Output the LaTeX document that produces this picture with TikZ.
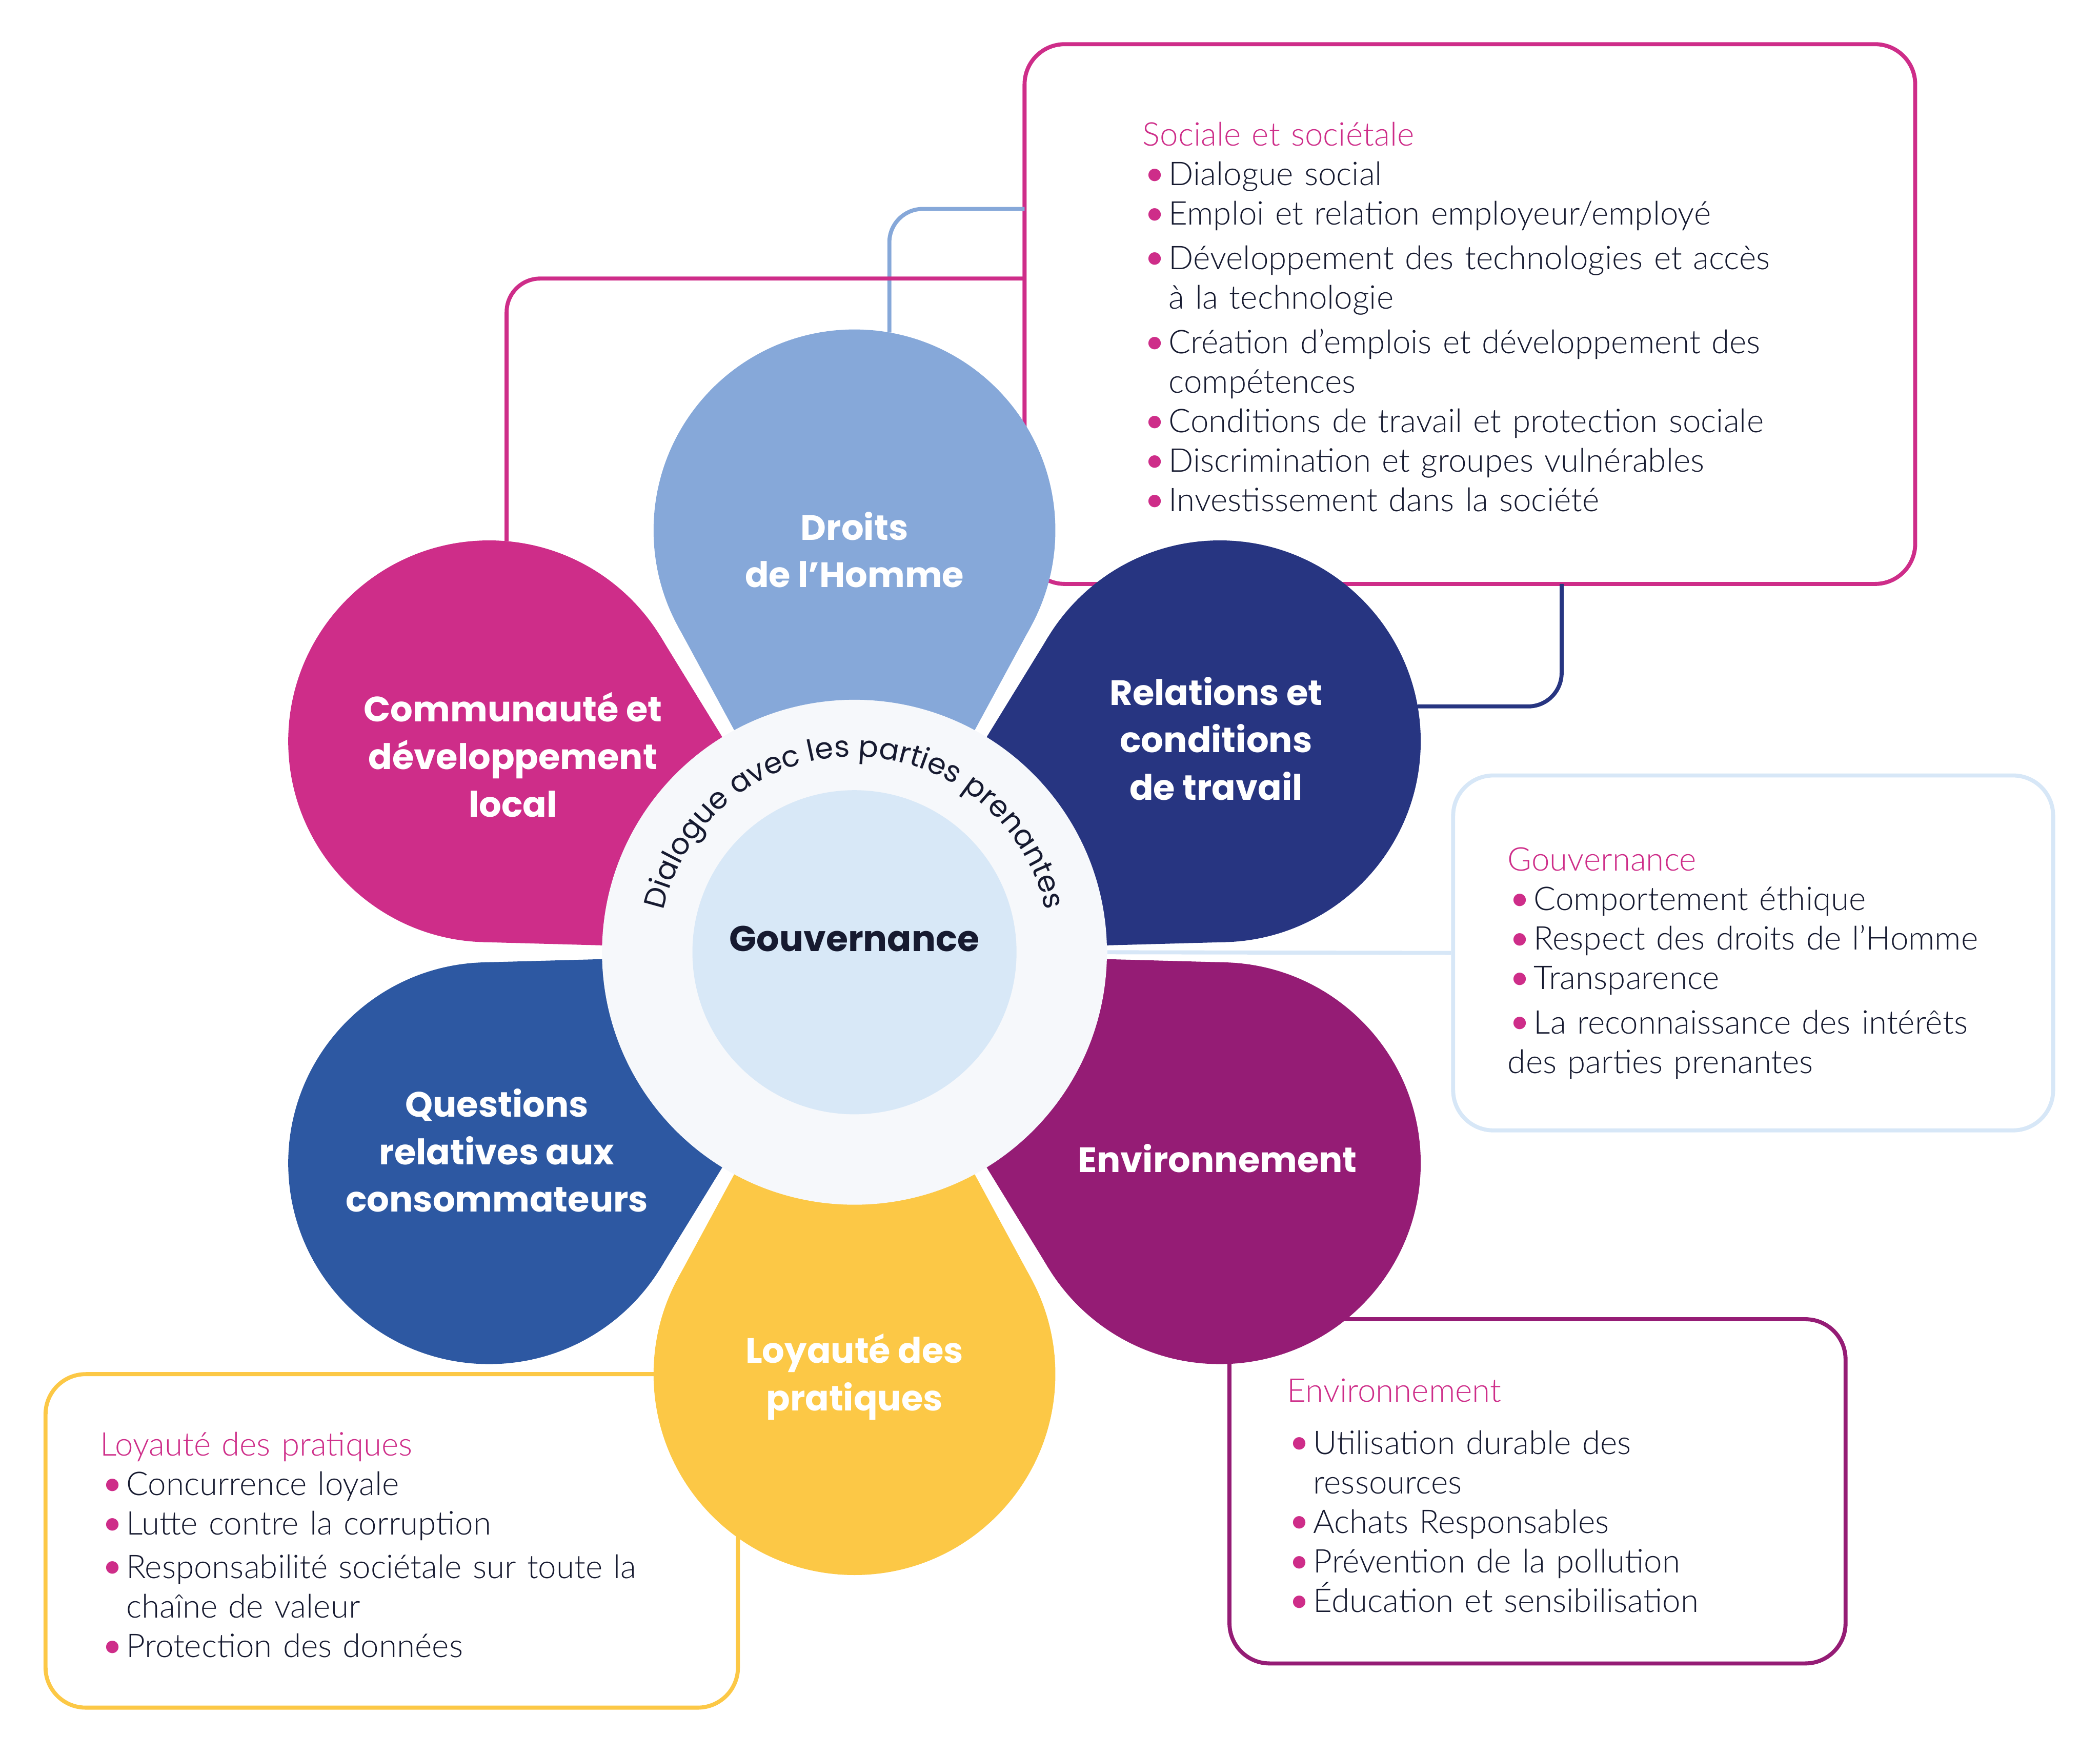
\documentclass[tikz,border=0pt]{standalone}
\usepackage{fontspec}
\setmainfont{Lato}
\newfontfamily\bodyfont{Lato Light}
\newfontfamily\petalfont{Poppins}
\usepackage{xcolor}
\usepackage{graphicx}
\usetikzlibrary{calc,backgrounds,decorations.text}
\definecolor{droitsblue}{HTML}{86A8D9}
\definecolor{relnavy}{HTML}{273581}
\definecolor{envpurple}{HTML}{951C75}
\definecolor{loyalyellow}{HTML}{FCC846}
\definecolor{consoblue}{HTML}{2D58A2}
\definecolor{commpink}{HTML}{CE2D89}
\definecolor{ringgrey}{HTML}{F6F8FB}
\definecolor{corelight}{HTML}{D8E8F7}
\definecolor{gouvline}{HTML}{D7E7F7}
\definecolor{inkdark}{HTML}{161A30}
\newcommand{\itm}{\makebox[19.5pt][l]{\textcolor{commpink}{\raisebox{-0.07em}{\scalebox{1.3}{\textbullet}}}}}
\newcommand{\hng}{\hspace*{19.5pt}}

\begin{document}
\begin{tikzpicture}[
    x=1pt, y=1pt,
    petal/.style={circle, minimum size=300pt, inner sep=0pt, outer sep=0pt},
    petallabel/.style={text=white, align=center, font=\petalfont\bfseries\fontsize{26.3}{35.5}\selectfont},
    panel/.style={rounded corners=30pt, line width=3pt, fill=white},
    panelbody/.style={anchor=base west, inner sep=0pt, text width=560pt, align=left, text=inkdark, font=\bodyfont\fontsize{24.4}{29.5}\selectfont},
    link/.style={line width=3pt, rounded corners=25pt}
]
\useasboundingbox (0,0) rectangle (1568,1310);
\coordinate (ctr) at (638,599);

% the six petals
\foreach \ang/\col/\nm in {90/droitsblue/droits, 30/relnavy/relations, -30/envpurple/environnement,
    -90/loyalyellow/loyaute, -150/consoblue/consommateurs, 150/commpink/communaute} {
  \node[petal, fill=\col] (\nm) at ($(ctr)+(\ang:315)$) {};
  \fill[\col] (ctr) -- ($(\nm)+(\ang+180-61.57:150)$) -- ($(\nm)+(\ang+180+61.57:150)$) -- cycle;
}

% centre
\node[circle, fill=ringgrey, minimum size=377pt, inner sep=0pt] (ring) at (ctr) {};
\node[circle, fill=corelight, minimum size=242pt, inner sep=0pt] (core) at (ctr) {};
\node[text=inkdark, font=\petalfont\bfseries\fontsize{26.7}{32}\selectfont] (gouvlbl) at (638,609) {Gouvernance};
\path[decorate, decoration={text along path, text align=center, text color=inkdark,
    text={|\petalfont\fontsize{22}{26}\selectfont|Dialogue avec les parties prenantes}}]
  ($(ctr)+(174:146)$) arc[start angle=174, end angle=6, radius=146];

\node[petallabel] (droitslbl) at (638,899.5) {Droits\\de l’Homme};
\node[petallabel] (relationslbl) at (908,758.5) {Relations et\\conditions\\de travail};
\node[petallabel] (environnementlbl) at (909,445) {Environnement};
\node[petallabel] (loyautelbl) at (638,282) {Loyauté des\\pratiques};
\node[petallabel] (consommateurslbl) at (371,451) {Questions\\relatives aux\\consommateurs};
\node[petallabel] (communautelbl) at (383,746.5) {Communauté et\\développement\\local};

\begin{scope}[on background layer]
% panels
\node[panel, draw=commpink, minimum width=665pt, minimum height=403pt] (sociale) at (1097.5,1075.5) {};
\node[panel, draw=gouvline, minimum width=448pt, minimum height=265pt] (gouvbox) at (1309,598.5) {};
\node[panel, draw=envpurple, minimum width=460pt, minimum height=257pt] (envbox) at (1148,196.5) {};
\node[panel, draw=loyalyellow, minimum width=517pt, minimum height=249pt] (loyalbox) at (292.5,159.5) {};

\node[panelbody] (socialetxt) at (853,1201) {\textcolor{commpink}{Sociale et sociétale}\\
  \itm Dialogue social\\
  \itm Emploi et relation employeur/employé\\[3.5pt]
  \itm Développement des technologies et accès\\
  \hng à la technologie\\[4pt]
  \itm Création d’emplois et développement des\\
  \hng compétences\\
  \itm Conditions de travail et protection sociale\\
  \itm Discrimination et groupes vulnérables\\
  \itm Investissement dans la société};
\node[panelbody] (gouvtxt) at (1125.6,659.7) {\textcolor{commpink}{Gouvernance}\\
  \itm Comportement éthique\\
  \itm Respect des droits de l’Homme\\
  \itm Transparence\\[3.5pt]
  \itm La reconnaissance des intérêts\\
  des parties prenantes};
\node[panelbody] (envtxt) at (961,263.2) {\textcolor{commpink}{Environnement}\\[9.5pt]
  \itm Utilisation durable des\\
  \hng ressources\\
  \itm Achats Responsables\\
  \itm Prévention de la pollution\\
  \itm Éducation et sensibilisation};
\node[panelbody] (loyaltxt) at (74.5,223) {\textcolor{commpink}{Loyauté des pratiques}\\
  \itm Concurrence loyale\\
  \itm Lutte contre la corruption\\[3pt]
  \itm Responsabilité sociétale sur toute la\\
  \hng chaîne de valeur\\
  \itm Protection des données};

% connectors
\coordinate (socA) at (765,1154);
\coordinate (socB) at (765,1102);
\coordinate (socC) at (1166,874);
\draw[link, droitsblue] (droits.80) |- (socA);
\draw[link, commpink] (communaute.85) |- (socB);
\draw[link, relnavy] (relations.10) -| (socC);
\draw[line width=3pt, gouvline] (ring.east) -- (gouvbox.west);
\end{scope}
\end{tikzpicture}
\end{document}
